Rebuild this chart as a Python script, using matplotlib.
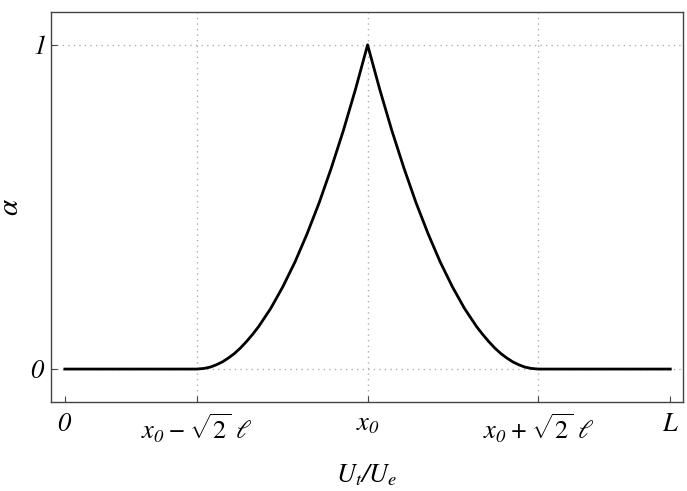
"""
Profile of alpha along U_t/U_e
"""

import numpy as np
import matplotlib
matplotlib.use("Agg")
import matplotlib.pyplot as plt

# values (x in units of L)
x_vals = [0.0, 0.218, 0.23, 0.24, 0.25, 0.26, 0.27, 0.28, 0.29, 0.30, 0.31,
          0.32, 0.34, 0.36, 0.38, 0.40, 0.42, 0.44, 0.46, 0.48, 0.50,
          0.52, 0.54, 0.56, 0.58, 0.60, 0.62, 0.64, 0.66, 0.68, 0.69, 0.70,
          0.71, 0.72, 0.73, 0.74, 0.75, 0.76, 0.77, 0.782, 1.0]
alpha_vals = [0.0, 0.0, 0.002, 0.006, 0.013, 0.022, 0.034, 0.048, 0.065,
              0.085, 0.107, 0.131, 0.187, 0.254, 0.330, 0.417, 0.513, 0.620,
              0.736, 0.863, 1.0,
              0.863, 0.736, 0.620, 0.513, 0.417, 0.330, 0.254, 0.187, 0.131,
              0.107, 0.085, 0.065, 0.048, 0.034, 0.022, 0.013, 0.006, 0.002,
              0.0, 0.0]

xtick_pos = [0.0, 0.218, 0.50, 0.782, 1.0]
xtick_labels = [r"$0$", r"$x_0 - \sqrt{\mathregular{2}}\ \ell$",
                r"$x_0$", r"$x_0 + \sqrt{\mathregular{2}}\ \ell$",
                r"$L$"]
ytick_pos = [0.0, 1.0]
ytick_labels = [r"$0$", r"$1$"]

# italic digits everywhere in math, like the reference
plt.rcParams["mathtext.fontset"] = "custom"
plt.rcParams["mathtext.rm"] = "STIXGeneral:italic"
plt.rcParams["mathtext.it"] = "STIXGeneral:italic"
plt.rcParams["mathtext.bf"] = "STIXGeneral:bold"
plt.rcParams["font.family"] = "STIXGeneral"

fig = plt.figure(figsize=(6.87, 4.91), dpi=100)
ax = fig.add_axes([0.0742, 0.181, 0.920, 0.795])

# dotted grid only at the inner ticks
for xg in xtick_pos[1:-1]:
  ax.axvline(xg, color="#b0b0b0", ls=(0, (1, 3)), lw=1.0, zorder=0)
for yg in ytick_pos:
  ax.axhline(yg, color="#b0b0b0", ls=(0, (1, 3)), lw=1.0, zorder=0)

ax.plot(x_vals, alpha_vals, color="black", lw=2.0, solid_joinstyle="round")

ax.set_xlim(-0.023, 1.021)
ax.set_ylim(-0.102, 1.102)
ax.set_xticks(xtick_pos)
ax.set_xticklabels(xtick_labels)
ax.set_yticks(ytick_pos)
ax.set_yticklabels(ytick_labels)
ax.tick_params(direction="in", length=4, width=0.8, labelsize=19,
               color="#444444")
ax.tick_params(axis="x", pad=7.5)
ax.tick_params(axis="y", pad=4)
for s in ax.spines.values():
  s.set_color("#444444")
  s.set_linewidth(1.0)

ax.set_xlabel(r"$U_t/U_e$", fontsize=19, labelpad=12)
ax.set_ylabel(r"$\alpha$", fontsize=21)
ax.yaxis.set_label_coords(-0.042, 0.5)

fig.savefig("out.png", dpi=100)
